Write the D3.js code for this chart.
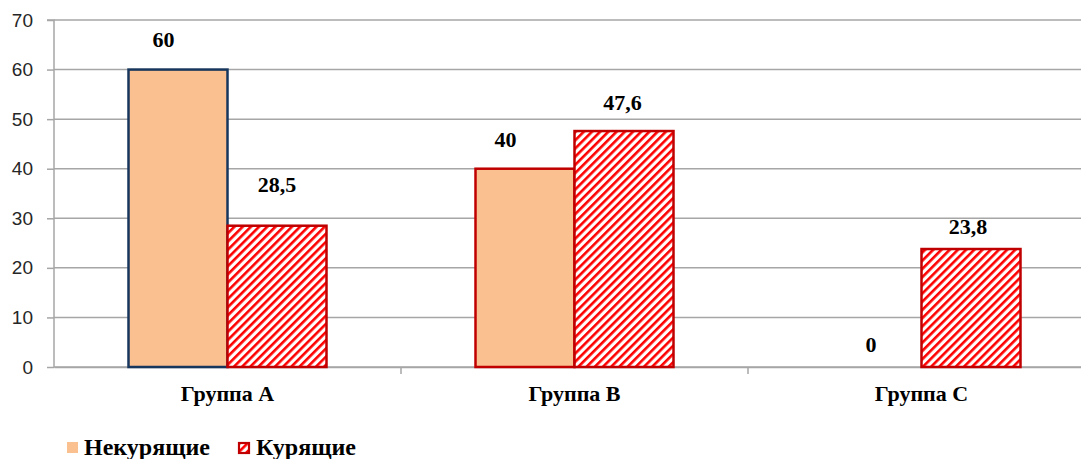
<!DOCTYPE html>
<html><head><meta charset="utf-8">
<script src="https://cdn.jsdelivr.net/npm/d3@7"></script>
<style>body{margin:0;background:#fff}</style>
</head><body>
<svg id="c" width="1081" height="459"></svg>
<script>
const categories = ["Группа A", "Группа B", "Группа C"];
const seriesNames = ["Некурящие", "Курящие"];
const nonSmokers = [60, 40, 0];
const smokers = [28.5, 47.6, 23.8];
const labelsNon = ["60", "40", "0"];
const labelsSmk = ["28,5", "47,6", "23,8"];
const yTicks = [0, 10, 20, 30, 40, 50, 60, 70];
const nonBorders = ["#17365d", "#c00000", "#c00000"];

(function(){
const SERIF = '"Liberation Serif"';
const SANS = '"Liberation Sans"';
const svg = d3.select("#c");
const defs = svg.append("defs");
const pat = defs.append("pattern").attr("id","hatch").attr("patternUnits","userSpaceOnUse")
  .attr("width",5.8).attr("height",5.8).attr("patternTransform","rotate(45)");
pat.append("rect").attr("width",5.8).attr("height",5.8).attr("fill","#fff");
pat.append("rect").attr("x",0).attr("y",0).attr("width",2.6).attr("height",5.8).attr("fill","#ff0000");

const mLeft = 54, mTop = 20, mBottom = 367, bandW = 347;
const x = d3.scaleBand().domain(categories).range([mLeft, mLeft + bandW*3]).paddingInner(0).paddingOuter(0);
const y = d3.scaleLinear().domain([0,70]).range([mBottom, mTop]);
const sub = d3.scaleBand().domain([0,1]).range([0, 198]);
const barOff = (bandW - 198)/2;
// manual label nudges (as in the original chart)
const nudgeNon = [[-14.5,-23],[-19.5,-22],[-1,-15]];
const nudgeSmk = [[0,-34],[-1.5,-21],[-3,-15]];

svg.append("g").selectAll("line").data(yTicks).join("line")
  .attr("x1", mLeft).attr("x2", 1081).attr("y1", d=>y(d)).attr("y2", d=>y(d))
  .attr("stroke","#a6a6a6").attr("stroke-width",1.5);

const yAxis = svg.append("g").attr("transform",`translate(${mLeft},0)`)
  .call(d3.axisLeft(y).tickValues(yTicks).tickSize(7).tickPadding(14));
yAxis.select(".domain").attr("stroke","#a6a6a6").attr("stroke-width",1.5).attr("d",`M-7,${mTop}H0V${mBottom}`);
yAxis.selectAll(".tick line").attr("stroke","#a6a6a6").attr("stroke-width",1.5);
yAxis.selectAll(".tick text").style("font-family",SANS).style("font-size","19px").attr("fill","#262626");

const xAxis = svg.append("g").attr("transform",`translate(0,${mBottom})`)
  .call(d3.axisBottom(x).tickSize(0).tickPadding(18));
xAxis.select(".domain").attr("stroke","#a6a6a6").attr("stroke-width",1.5);
xAxis.selectAll(".tick text").style("font-family",SERIF).style("font-weight","bold")
  .style("font-size","22px").attr("fill","#000");
svg.append("g").selectAll("line").data(categories.slice(1)).join("line")
  .attr("x1", d=>x(d)).attr("x2", d=>x(d)).attr("y1", mBottom).attr("y2", mBottom+7)
  .attr("stroke","#a6a6a6").attr("stroke-width",1.5);

const g = svg.append("g");
g.selectAll("rect.non").data(nonSmokers).join("rect").attr("class","non")
  .attr("x",(d,i)=>x(categories[i])+barOff+sub(0)).attr("width",sub.bandwidth())
  .attr("y",d=>y(d)).attr("height",d=>mBottom-y(d))
  .attr("fill","#fac090").attr("stroke",(d,i)=>nonBorders[i]).attr("stroke-width",d=>d>0?2.5:0);
g.selectAll("rect.smk").data(smokers).join("rect").attr("class","smk")
  .attr("x",(d,i)=>x(categories[i])+barOff+sub(1)).attr("width",sub.bandwidth())
  .attr("y",d=>y(d)).attr("height",d=>mBottom-y(d))
  .attr("fill","url(#hatch)").attr("stroke","#c00000").attr("stroke-width",2.5);

g.selectAll("text.ln").data(nonSmokers).join("text").attr("class","ln")
  .attr("x",(d,i)=>x(categories[i])+barOff+sub(0)+sub.bandwidth()/2+nudgeNon[i][0])
  .attr("y",(d,i)=>y(d)+nudgeNon[i][1]).attr("text-anchor","middle")
  .style("font-family",SERIF).style("font-weight","bold").style("font-size","22px")
  .text((d,i)=>labelsNon[i]);
g.selectAll("text.ls").data(smokers).join("text").attr("class","ls")
  .attr("x",(d,i)=>x(categories[i])+barOff+sub(1)+sub.bandwidth()/2+nudgeSmk[i][0])
  .attr("y",(d,i)=>y(d)+nudgeSmk[i][1]).attr("text-anchor","middle")
  .style("font-family",SERIF).style("font-weight","bold").style("font-size","22px")
  .text((d,i)=>labelsSmk[i]);

const leg = svg.append("g");
leg.append("rect").attr("x",67).attr("y",442).attr("width",11).attr("height",11).attr("fill","#fac090");
leg.append("text").attr("x",84).attr("y",455)
  .style("font-family",SERIF).style("font-weight","bold").style("font-size","24px").text(seriesNames[0]);
leg.append("rect").attr("x",239).attr("y",443).attr("width",10).attr("height",10)
  .attr("fill","url(#hatch)").attr("stroke","#c00000").attr("stroke-width",2.2);
leg.append("text").attr("x",256).attr("y",455)
  .style("font-family",SERIF).style("font-weight","bold").style("font-size","24px").text(seriesNames[1]);
})();
</script>
</body></html>
